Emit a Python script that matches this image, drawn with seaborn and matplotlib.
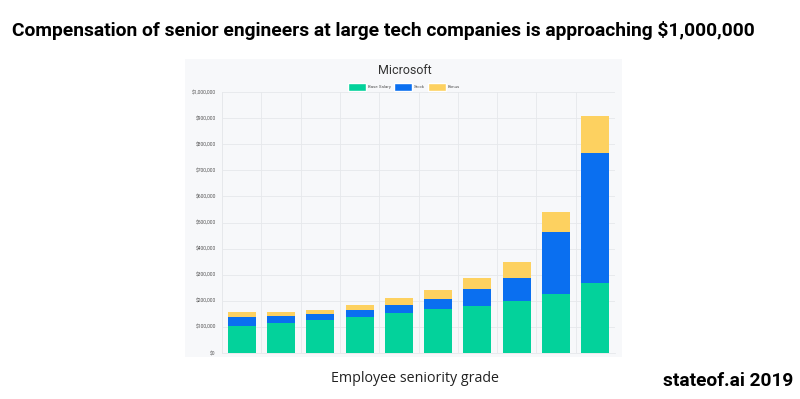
import numpy as np
import pandas as pd
import matplotlib
matplotlib.use('Agg')
import matplotlib.pyplot as plt
import matplotlib.patches as mpatches
from matplotlib.ticker import FuncFormatter
import seaborn as sns

# Data (USD, stacked per seniority grade)
grades = ['1', '2', '3', '4', '5', '6', '7', '8', '9', '10']
base_salary = [105000, 115000, 126000, 138000, 153000, 169000, 180000, 199000, 226000, 268000]
stock = [33000, 27000, 23000, 27000, 31000, 38000, 65000, 88000, 238000, 500000]
bonus = [19000, 15000, 16000, 19000, 27000, 34000, 44000, 62000, 76000, 140000]
yticks = [0, 100000, 200000, 300000, 400000, 500000, 600000, 700000, 800000, 900000, 1000000]

green = '#03d29b'
blue = '#0a6ff0'
yellow = '#fdd160'

df = pd.DataFrame({'grade': grades, 'base': base_salary, 'stock': stock, 'bonus': bonus})
df['base_stock'] = df['base'] + df['stock']
df['total'] = df['base_stock'] + df['bonus']

sns.set_style('white')
plt.rcParams['font.family'] = ['Roboto', 'DejaVu Sans']

fig = plt.figure(figsize=(8, 3.99), dpi=100)

# light panel behind the chart
panel = mpatches.Rectangle((185 / 800, (399 - 357) / 399), (622 - 185) / 800, (357 - 59) / 399,
                           transform=fig.transFigure, facecolor='#f7f8fa', edgecolor='none', zorder=-1)
fig.patches.append(panel)

ax = fig.add_axes([222 / 800, (399 - 353) / 399, 393 / 800, 261 / 399])
ax.set_facecolor('none')

# stacked bars: draw totals first, then cover with lower segments
for col, c in [('total', yellow), ('base_stock', blue), ('base', green)]:
    sns.barplot(data=df, x='grade', y=col, color=c, width=0.71, saturation=1, ax=ax,
                zorder=3, linewidth=0)

ax.set_xlim(-0.5, 9.5)
ax.set_ylim(0, 1000000)
ax.set_yticks(yticks)
ax.yaxis.set_major_formatter(FuncFormatter(lambda v, p: '${:,.0f}'.format(v)))
ax.tick_params(axis='y', labelsize=3.6, labelcolor='#555555', length=3, color='#e6e8eb', pad=1.5)
ax.set_xticks(np.arange(-0.5, 10, 1), minor=True)
ax.tick_params(axis='x', which='both', bottom=False, labelbottom=False)
ax.grid(axis='y', which='major', color='#e6e8eb', linewidth=0.6, zorder=0)
ax.grid(axis='x', which='minor', color='#e6e8eb', linewidth=0.6, zorder=0)
ax.set_xlabel('')
ax.set_ylabel('')
for s in ['top', 'right']:
    ax.spines[s].set_visible(False)
ax.spines['left'].set_color('#e6e8eb')
ax.spines['bottom'].set_color('#e6e8eb')
ax.spines['left'].set_linewidth(0.6)
ax.spines['bottom'].set_linewidth(0.6)

handles = [mpatches.Patch(facecolor=green, label='Base Salary'),
           mpatches.Patch(facecolor=blue, label='Stock'),
           mpatches.Patch(facecolor=yellow, label='Bonus')]
fig.legend(handles=handles, loc='center', bbox_to_anchor=(404 / 800, (399 - 87) / 399), ncol=3,
           frameon=False, fontsize=3.2, handlelength=4.0, handleheight=2.4, columnspacing=0.7,
           handletextpad=0.4, labelcolor='#555555')

fig.text(405 / 800, (399 - 71) / 399, 'Microsoft', ha='center', va='center', fontsize=9, color='#333333')
fig.text(12 / 800, (399 - 30) / 399,
         'Compensation of senior engineers at large tech companies is approaching $1,000,000',
         ha='left', va='center', fontsize=13.9, fontweight='bold', color='black')
fig.text(415 / 800, (399 - 378) / 399, 'Employee seniority grade', ha='center', va='center',
         fontsize=10.3, color='#222222', family=['Open Sans', 'DejaVu Sans'])
fig.text(793 / 800, (399 - 381) / 399, 'stateof.ai 2019', ha='right', va='center',
         fontsize=13.8, fontweight='bold', color='black')

fig.savefig('out.png', dpi=100)
